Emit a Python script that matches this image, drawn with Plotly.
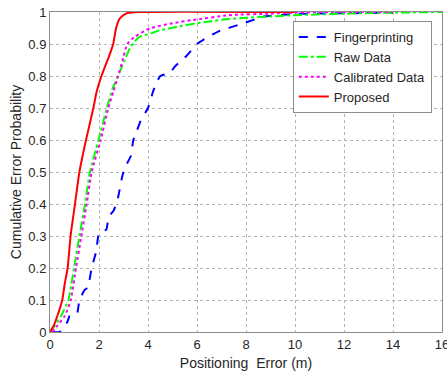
import plotly.graph_objects as go

# Fingerprinting (blue dashed)
fp_x = [0.1, 0.4, 0.55, 0.7, 0.8, 1.1, 1.2, 1.4, 1.55, 1.7, 1.88, 2.0, 2.3, 2.4, 2.6, 2.75, 2.93, 3.0, 3.1, 3.3, 3.4, 3.55, 3.7, 4.0, 4.2, 4.35, 4.5, 4.9, 5.1, 5.6, 6.0, 6.4, 6.9, 7.9, 8.7, 10.0, 12.0, 14.0]
fp_y = [0.0, 0.0, 0.02, 0.03, 0.05, 0.055, 0.1, 0.13, 0.14, 0.2, 0.25, 0.31, 0.32, 0.36, 0.38, 0.41, 0.48, 0.5, 0.52, 0.55, 0.6, 0.63, 0.66, 0.7, 0.75, 0.78, 0.8, 0.81, 0.83, 0.865, 0.9, 0.92, 0.94, 0.965, 0.985, 0.994, 0.996, 0.998]

# Raw Data (green dash-dot)
raw_x = [0.0, 0.2, 0.45, 0.75, 0.98, 1.2, 1.43, 1.63, 1.98, 2.32, 2.55, 2.78, 3.05, 3.25, 3.45, 3.67, 4.0, 4.49, 4.9, 5.4, 6.0, 6.5, 7.27, 8.0, 9.0, 10.0, 12.0, 14.0, 16.0]
raw_y = [0.0, 0.02, 0.05, 0.1, 0.2, 0.3, 0.4, 0.5, 0.6, 0.7, 0.76, 0.8, 0.85, 0.885, 0.908, 0.923, 0.93, 0.943, 0.949, 0.957, 0.965, 0.97, 0.978, 0.982, 0.986, 0.99, 0.995, 0.998, 1.0]

# Calibrated Data (magenta dotted)
cal_x = [0.1, 0.3, 0.6, 0.85, 1.06, 1.28, 1.5, 1.7, 2.07, 2.38, 2.58, 2.78, 3.0, 3.15, 3.47, 4.08, 5.0, 5.84, 7.3, 9.0, 10.0, 12.0, 14.0]
cal_y = [0.0, 0.02, 0.05, 0.1, 0.2, 0.3, 0.4, 0.5, 0.6, 0.7, 0.75, 0.8, 0.86, 0.9, 0.923, 0.949, 0.965, 0.975, 0.99, 0.995, 0.998, 1.0, 1.0]

# Proposed (red solid)
pro_x = [0.0, 0.15, 0.3, 0.5, 0.6, 0.72, 0.84, 1.02, 1.2, 1.47, 1.77, 1.9, 2.1, 2.3, 2.45, 2.58, 2.7, 2.85, 3.1, 3.6, 10.0]
pro_y = [0.0, 0.02, 0.05, 0.1, 0.15, 0.2, 0.3, 0.4, 0.5, 0.6, 0.7, 0.75, 0.8, 0.84, 0.87, 0.9, 0.95, 0.98, 0.995, 1.0, 1.0]

x_ticks = [0, 2, 4, 6, 8, 10, 12, 14, 16]
y_ticks = [0, 0.1, 0.2, 0.3, 0.4, 0.5, 0.6, 0.7, 0.8, 0.9, 1]
y_tick_text = ["0", "0.1", "0.2", "0.3", "0.4", "0.5", "0.6", "0.7", "0.8", "0.9", "1"]

fig = go.Figure()
fig.add_trace(go.Scatter(x=fp_x, y=fp_y, mode="lines", name="Fingerprinting",
                         line=dict(color="#0000FF", width=2, dash="dash", shape="spline", smoothing=0.3)))
fig.add_trace(go.Scatter(x=raw_x, y=raw_y, mode="lines", name="Raw Data",
                         line=dict(color="#00FF00", width=2, dash="dashdot", shape="spline", smoothing=0.5)))
fig.add_trace(go.Scatter(x=cal_x, y=cal_y, mode="lines", name="Calibrated Data",
                         line=dict(color="#FF00FF", width=2, dash="dot", shape="spline", smoothing=0.5)))
fig.add_trace(go.Scatter(x=pro_x, y=pro_y, mode="lines", name="Proposed",
                         line=dict(color="#FF0000", width=2, shape="spline", smoothing=0.5)))

font_family = "Liberation Sans, Arial, sans-serif"
fig.update_layout(
    width=447, height=374,
    margin=dict(l=50, r=5, t=12, b=42, autoexpand=False),
    paper_bgcolor="white", plot_bgcolor="white",
    font=dict(family=font_family, size=13, color="#262626"),
    showlegend=True,
    hovermode=False,
    legend=dict(x=0.974, y=0.972, xanchor="right", yanchor="top",
                bgcolor="white", bordercolor="#8c8c8c", borderwidth=1,
                font=dict(size=13, color="#262626"),
                itemwidth=30, tracegroupgap=0),
    xaxis=dict(range=[0, 16], tickvals=x_ticks, ticktext=[str(v) for v in x_ticks],
               ticklabeloverflow="allow",
               showgrid=True, gridcolor="#b5b5b5", griddash="dot", gridwidth=1,
               showline=True, linecolor="#8c8c8c", linewidth=1, mirror=True,
               zeroline=False, ticks="",
               title=dict(text="Positioning\u00a0 Error (m)", font=dict(size=14), standoff=7)),
    yaxis=dict(range=[0, 1], tickvals=y_ticks, ticktext=y_tick_text,
               ticklabeloverflow="allow",
               showgrid=True, gridcolor="#b5b5b5", griddash="dot", gridwidth=1,
               showline=True, linecolor="#8c8c8c", linewidth=1, mirror=True,
               zeroline=False, ticks="",
               title=dict(text="Cumulative Error Probability", font=dict(size=14), standoff=3)),
)

# Remove the default 8px page margin so the figure fills the window exactly.
fig.write_html("out.html",
               config={"displayModeBar": False},
               post_script="document.body.style.margin='0';document.body.style.padding='0';")
